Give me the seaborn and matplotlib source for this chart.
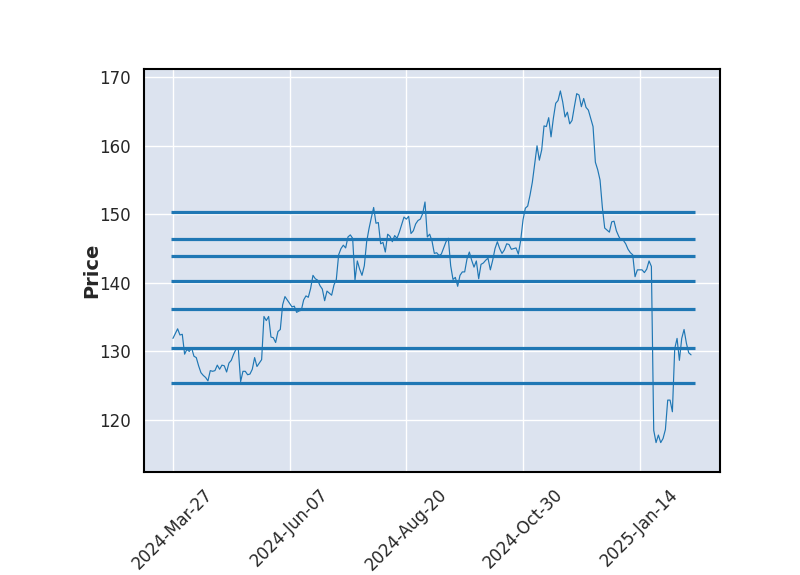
import numpy as np
import pandas as pd
import matplotlib
matplotlib.use("Agg")
import matplotlib.pyplot as plt
import seaborn as sns

# --- data ---
prices = [
    131.9, 132.6, 133.3, 132.4, 132.5, 129.6, 130.3, 130.0, 130.5, 129.3,
    129.1, 127.9, 126.9, 126.5, 126.2, 125.7, 127.2, 127.1, 127.2, 128.0,
    127.4, 128.0, 127.9, 127.0, 128.3, 128.7, 129.6, 130.3, 130.4, 125.6,
    127.1, 127.1, 126.6, 126.7, 127.4, 129.1, 127.8, 128.3, 128.8, 135.1,
    134.5, 135.1, 132.1, 132.0, 131.3, 132.9, 133.2, 136.8, 138.0, 137.5,
    137.0, 136.5, 136.6, 135.7, 135.9, 136.0, 137.5, 138.1, 137.9, 139.2,
    141.1, 140.6, 140.4, 139.6, 139.1, 137.4, 138.8, 138.5, 138.2, 139.7,
    140.5, 144.1, 145.0, 145.5, 145.1, 146.7, 147.0, 146.5, 140.4, 143.2,
    142.0, 141.1, 142.5, 146.0, 147.9, 149.5, 151.0, 148.7, 148.8, 145.7,
    145.9, 144.5, 147.1, 146.8, 146.0, 146.9, 146.5, 147.4, 148.5, 149.6,
    149.3, 149.7, 147.2, 147.6, 148.6, 149.1, 149.3, 150.1, 151.8, 146.7,
    147.1, 146.1, 144.3, 144.4, 144.0, 144.2, 145.1, 146.0, 146.5, 142.5,
    140.5, 140.8, 139.5, 141.1, 141.6, 141.6, 143.5, 144.5, 143.3, 142.3,
    143.2, 140.6, 142.7, 142.9, 143.3, 143.6, 141.9, 143.3, 145.0, 146.0,
    145.0, 144.3, 144.8, 145.7, 145.6, 144.9, 145.0, 145.1, 144.2, 146.2,
    149.2, 150.9, 151.2, 152.8, 154.7, 157.3, 160.0, 157.9, 159.4, 162.9,
    162.8, 164.1, 161.3, 164.0, 166.2, 166.6, 168.0, 166.4, 164.2, 164.9,
    163.2, 163.7, 165.7, 167.6, 167.4, 165.7, 166.9, 165.6, 165.2, 164.0,
    162.8, 157.6, 156.5, 155.0, 151.0, 148.0, 147.7, 147.4, 148.9, 149.0,
    147.6, 146.8, 146.2, 146.2, 145.7, 144.9, 144.4, 144.1, 140.9, 141.9,
    141.9, 141.9, 141.5, 142.0, 143.2, 142.4, 118.5, 116.7, 117.8, 116.7,
    117.3, 118.6, 122.9, 122.9, 121.2, 130.4, 131.9, 128.7, 131.9, 133.2,
    131.2, 129.8, 129.5,
]
levels = [150.3, 146.4, 143.9, 140.25, 136.2, 130.5, 125.4]
tick_positions = [0, 50, 100, 150, 200]
tick_labels = ["2024-Mar-27", "2024-Jun-07", "2024-Aug-20", "2024-Oct-30", "2025-Jan-14"]

df = pd.DataFrame({"idx": np.arange(len(prices)), "Price": prices})

sns.set_theme(style="darkgrid", rc={
    "axes.facecolor": "#DCE3EF",
    "axes.edgecolor": "black",
    "axes.linewidth": 1.5,
    "grid.color": "white",
    "grid.linewidth": 1.0,
    "xtick.labelsize": 12,
    "ytick.labelsize": 12,
})
plt.rcParams["font.family"] = ["DejaVu Sans"]

fig = plt.figure(figsize=(8, 5.75), dpi=100)
ax = fig.add_axes([0.18, 0.179, 0.72, 0.701])

sns.lineplot(data=df, x="idx", y="Price", ax=ax, color="#1f77b4", linewidth=0.85)
ax.hlines(levels, xmin=-0.8, xmax=223.6, colors="#1f77b4", linewidth=2.3)

ax.set_xlim(-12.4, 234.4)
ax.set_ylim(112.4, 171.2)
ax.set_yticks([120, 130, 140, 150, 160, 170])
ax.set_xticks(tick_positions)
ax.set_xticklabels(tick_labels, rotation=45, ha="center")
ax.set_xlabel("")
ax.set_ylabel("Price", fontsize=14, fontweight="bold", labelpad=-1.5)

fig.savefig("out.png", dpi=100)
